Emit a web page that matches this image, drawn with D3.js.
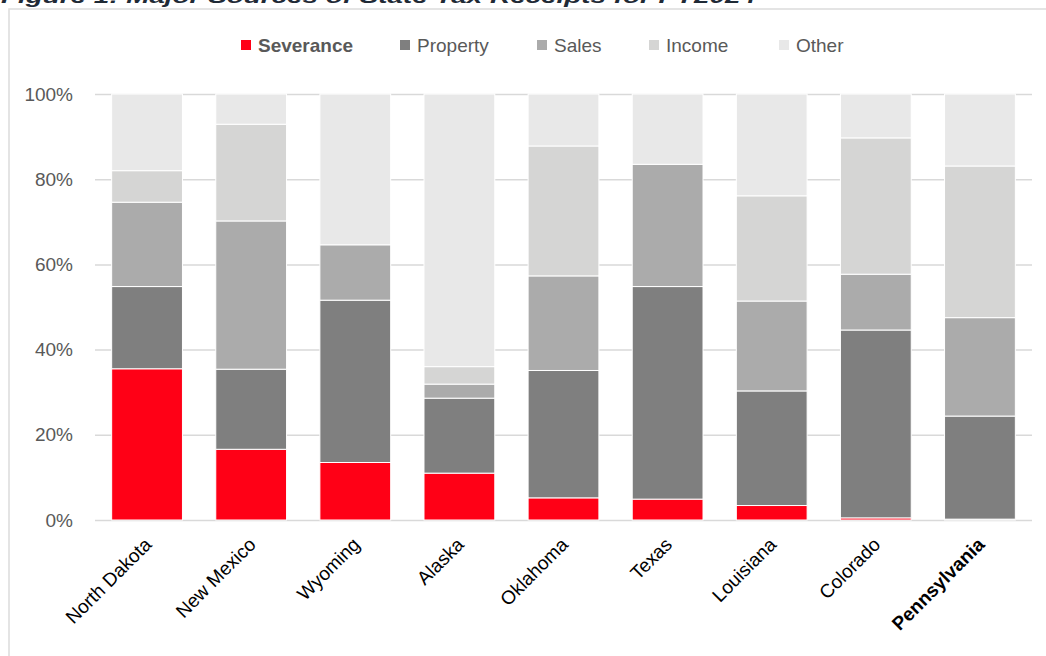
<!DOCTYPE html>
<html>
<head>
<meta charset="utf-8">
<script src="https://cdn.jsdelivr.net/npm/d3@7"></script>
<style>
  body { margin: 0; background: #fff; }
  svg { display: block; }
</style>
</head>
<body>
<div id="chart"></div>
<script>
var w = 1046, h = 656;

var states = ["North Dakota", "New Mexico", "Wyoming", "Alaska", "Oklahoma", "Texas", "Louisiana", "Colorado", "Pennsylvania"];
var sources = ["Severance", "Property", "Sales", "Income", "Other"];

// shares of total tax receipts, in percent
var severance = [35.5, 16.6, 13.5, 11.0, 5.2, 4.9, 3.4, 0.5, 0.2];
var property  = [19.3, 18.8, 38.1, 17.6, 29.9, 49.9, 26.9, 44.1, 24.2];
var sales     = [19.8, 34.8, 13.0, 3.3, 22.2, 28.7, 21.1, 13.1, 23.1];
var income    = [7.4, 22.7, 0, 4.1, 30.5, 0, 24.7, 32.0, 35.6];
var other     = [18.0, 7.1, 35.4, 64.0, 12.2, 16.5, 23.9, 10.3, 16.9];

var yTicks = [0, 0.2, 0.4, 0.6, 0.8, 1];

var color = d3.scaleOrdinal()
  .domain(sources)
  .range(["#ff0016", "#7f7f7f", "#ababab", "#d5d5d4", "#e8e8e8"]);

var rows = states.map(function(s, i) {
  return { state: s, Severance: severance[i], Property: property[i], Sales: sales[i], Income: income[i], Other: other[i] };
});
rows.forEach(function(d) {
  var tot = d3.sum(sources, function(k) { return d[k]; });
  sources.forEach(function(k) { d[k] = d[k] / tot; });
});

var stacked = d3.stack().keys(sources)(rows);

var svg = d3.select("#chart").append("svg")
  .attr("width", w)
  .attr("height", h);

// outer frame
svg.append("rect")
  .attr("x", 9).attr("y", 9)
  .attr("width", 1100).attr("height", 700)
  .attr("fill", "none")
  .attr("stroke", "#dcdcdc")
  .attr("stroke-width", 1.5);

// title, mostly cut off at the top (as in the source image)
svg.append("text")
  .attr("x", 1)
  .attr("y", 3)
  .attr("textLength", 755)
  .attr("lengthAdjust", "spacingAndGlyphs")
  .style("font-family", "Liberation Sans, Arial, sans-serif")
  .style("font-size", "19px")
  .style("font-weight", "bold")
  .style("font-style", "italic")
  .style("fill", "#1f2a36")
  .text("Figure 1: Major Sources of State Tax Receipts for FY2024");

var x = d3.scaleBand()
  .domain(states)
  .range([95, 1032])
  .paddingInner(0.32)
  .paddingOuter(0.16);

var y = d3.scaleLinear()
  .domain([0, 1])
  .range([520, 94]);

// gridlines + y labels
var yAxis = d3.axisLeft(y)
  .tickValues(yTicks)
  .tickFormat(d3.format(".0%"))
  .tickSize(-(1032 - 95))
  .tickPadding(22);

var gy = svg.append("g")
  .attr("transform", "translate(95,0)")
  .call(yAxis);
gy.select(".domain").remove();
gy.selectAll("line")
  .attr("stroke", "#d9d9d9")
  .attr("stroke-width", 1.5);
gy.selectAll("text")
  .style("font-family", "Liberation Sans, Arial, sans-serif")
  .style("font-size", "19px")
  .style("fill", "#595959");

// stacked bars
svg.append("g")
  .selectAll("g")
  .data(stacked)
  .join("g")
    .attr("fill", function(d) { return color(d.key); })
  .selectAll("rect")
  .data(function(d) { return d; })
  .join("rect")
    .attr("x", function(d) { return x(d.data.state); })
    .attr("y", function(d) { return y(d[1]); })
    .attr("width", x.bandwidth())
    .attr("height", function(d) { return Math.max(0, y(d[0]) - y(d[1])); })
    .attr("stroke", "#fff")
    .attr("stroke-width", 1);

// x labels, rotated
svg.append("g")
  .selectAll("text")
  .data(states)
  .join("text")
    .attr("transform", function(d) {
      return "translate(" + (x(d) + x.bandwidth() / 2 + 1) + ",541) rotate(-45)";
    })
    .attr("text-anchor", "end")
    .attr("dy", "0.35em")
    .style("font-family", "Liberation Sans, Arial, sans-serif")
    .style("font-size", "19px")
    .style("font-weight", function(d) { return d == "Pennsylvania" ? "bold" : "normal"; })
    .style("fill", "#000")
    .text(function(d) { return d; });

// legend
var legendX = [241, 400, 537, 649, 779];
var legend = svg.append("g")
  .selectAll("g")
  .data(sources)
  .join("g")
    .attr("transform", function(d, i) { return "translate(" + legendX[i] + ",45)"; });

legend.append("rect")
  .attr("x", 0).attr("y", -5)
  .attr("width", 10).attr("height", 10)
  .attr("fill", function(d) { return color(d); });

legend.append("text")
  .attr("x", 17)
  .attr("dy", "0.35em")
  .style("font-family", "Liberation Sans, Arial, sans-serif")
  .style("font-size", "19px")
  .style("font-weight", function(d) { return d == "Severance" ? "bold" : "normal"; })
  .style("fill", "#595959")
  .text(function(d) { return d; });
</script>
</body>
</html>
